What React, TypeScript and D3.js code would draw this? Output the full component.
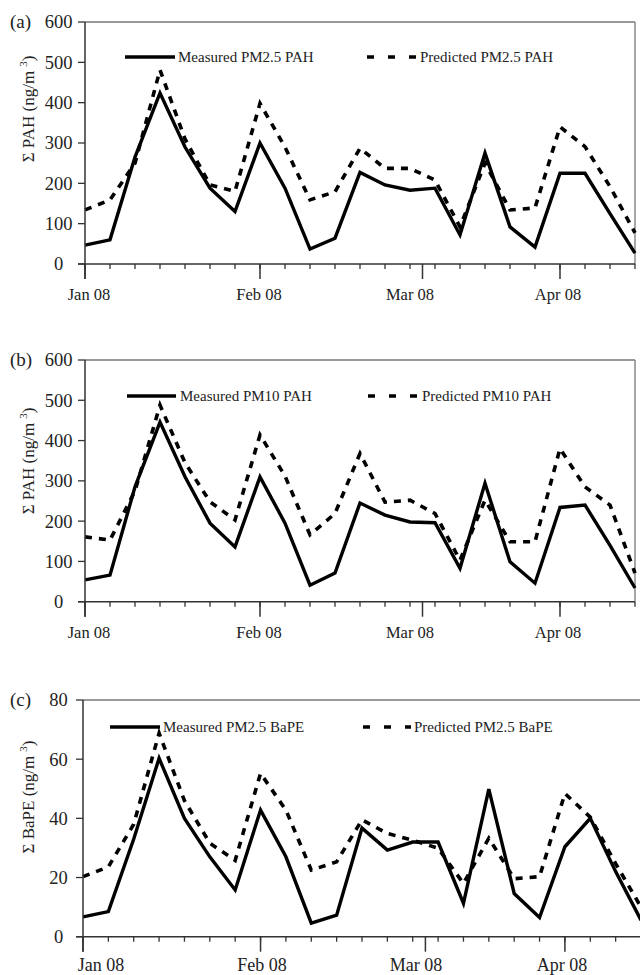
import React from "react";
import * as d3 from "d3";

const samples = [1, 2, 3, 4, 5, 6, 7, 8, 9, 10, 11, 12, 13, 14, 15, 16, 17, 18, 19, 20, 21, 22, 23];
const monthLabels = ["Jan 08", "Feb 08", "Mar 08", "Apr 08"];
const monthTickAt = [1, 8, 14.5, 20];

const measuredPM25PAH = [47, 60, 265, 424, 290, 188, 130, 300, 188, 37, 64, 227, 196, 183, 188, 72, 275, 92, 42, 225, 225, 125, 27];
const predictedPM25PAH = [134, 159, 250, 481, 310, 196, 180, 398, 290, 159, 179, 287, 237, 237, 208, 92, 250, 134, 139, 340, 291, 192, 77];

const measuredPM10PAH = [54, 66, 285, 446, 310, 195, 136, 310, 195, 41, 71, 245, 215, 198, 196, 83, 294, 99, 46, 234, 240, 140, 34];
const predictedPM10PAH = [161, 153, 275, 488, 345, 248, 203, 414, 312, 166, 219, 368, 247, 252, 219, 103, 252, 149, 149, 380, 285, 240, 71];

const measuredBaPE = [6.7, 8.5, 33, 60.3, 40, 27, 15.8, 42.8, 27, 4.6, 7.3, 36.7, 29.3, 32, 32, 11.3, 49.9, 14.6, 6.5, 30.4, 40, 22, 5.6];
const predictedBaPE = [20.3, 23.6, 38, 68.8, 46, 31.6, 25.8, 55.2, 42.8, 22.5, 25.3, 39.5, 34.9, 32.6, 29.9, 18, 33.3, 19.6, 20.3, 48.4, 40.4, 24.7, 10];

const yTicksPAH = [0, 100, 200, 300, 400, 500, 600];
const yTicksBaPE = [0, 20, 40, 60, 80];

const FONT = '"Liberation Serif", Tinos, "Times New Roman", Times, "DejaVu Serif", serif';
const TXT = { fontFamily: FONT };

type PanelProps = {
  tag: string;
  left: number;
  right: number;
  top: number;
  bottom: number;
  yMax: number;
  yTicks: number[];
  measured: number[];
  predicted: number[];
  measuredLabel: string;
  predictedLabel: string;
  titleMain: string;
  titleCy: number;
  legendY: number;
  legSolidX: [number, number];
  legDashX: [number, number];
  legTextGap: number;
  monthLabelX: number[];
  xLabelSize: number;
  xLabelBaseline: number;
};

function Panel(p: PanelProps) {
  const x = d3.scaleLinear().domain([1, 23]).range([p.left, p.right]);
  const y = d3.scaleLinear().domain([0, p.yMax]).range([p.bottom, p.top]);
  const line = d3
    .line<number>()
    .x((_, i) => x(samples[i]))
    .y((d) => y(d));
  const axisColor = "#333";
  return (
    <g>
      <line x1={p.left} x2={p.right} y1={p.top} y2={p.top} stroke="#777" strokeWidth={1.3} />
      <line x1={p.right} x2={p.right} y1={p.top} y2={p.bottom} stroke="#777" strokeWidth={1.3} />
      <path d={line(p.predicted) || ""} fill="none" stroke="#000" strokeWidth={3.6} strokeDasharray="7,7" />
      <path d={line(p.measured) || ""} fill="none" stroke="#000" strokeWidth={3.4} />
      <line x1={p.left} x2={p.left} y1={p.top} y2={p.bottom + 15} stroke={axisColor} strokeWidth={1.5} />
      <line x1={p.left - 7} x2={p.right} y1={p.bottom} y2={p.bottom} stroke={axisColor} strokeWidth={1.5} />
      {p.yTicks.map((t) => (
        <g key={t}>
          <line x1={p.left - 7} x2={p.left} y1={y(t)} y2={y(t)} stroke={axisColor} strokeWidth={1.3} />
          <text x={58.5} y={y(t)} dy="0.35em" textAnchor="middle" fontSize={18.5} fill="#222" style={TXT}>
            {t}
          </text>
        </g>
      ))}
      {samples.map((s) => (
        <line key={s} x1={x(s)} x2={x(s)} y1={p.bottom} y2={p.bottom + 5} stroke={axisColor} strokeWidth={1.3} />
      ))}
      {monthTickAt.map((m, i) => (
        <g key={i}>
          <line x1={x(m)} x2={x(m)} y1={p.bottom} y2={p.bottom + 15} stroke={axisColor} strokeWidth={1.5} />
          <text
            x={p.monthLabelX[i]}
            y={p.xLabelBaseline}
            textAnchor="middle"
            fontSize={p.xLabelSize}
            fill="#222"
            style={TXT}
          >
            {monthLabels[i]}
          </text>
        </g>
      ))}
      <text x={10} y={p.top + 6} fontSize={19} fill="#222" style={TXT}>
        {p.tag}
      </text>
      <text
        transform={`translate(34,${p.titleCy}) rotate(-90)`}
        textAnchor="middle"
        fontSize={17}
        fill="#222"
        style={TXT}
      >
        {p.titleMain} (ng/m
        <tspan dx={4} dy={-7} fontSize={11}>
          3
        </tspan>
        <tspan dy={7}>)</tspan>
      </text>
      <line x1={p.legSolidX[0]} x2={p.legSolidX[1]} y1={p.legendY} y2={p.legendY} stroke="#000" strokeWidth={3.4} />
      <text x={p.legSolidX[1] + p.legTextGap} y={p.legendY + 5} fontSize={15} fill="#222" style={TXT}>
        {p.measuredLabel}
      </text>
      <line
        x1={p.legDashX[0]}
        x2={p.legDashX[1]}
        y1={p.legendY}
        y2={p.legendY}
        stroke="#000"
        strokeWidth={3.6}
        strokeDasharray="7,14"
      />
      <text x={p.legDashX[1] + p.legTextGap} y={p.legendY + 5} fontSize={15} fill="#222" style={TXT}>
        {p.predictedLabel}
      </text>
    </g>
  );
}

export default function App() {
  return (
    <svg width={640} height={975} style={{ position: "absolute", left: 0, top: 0, background: "#fff" }}>
      <rect width={640} height={975} fill="#fff" />
      <Panel
        tag="(a)"
        left={85}
        right={635}
        top={22}
        bottom={264}
        yMax={600}
        yTicks={yTicksPAH}
        measured={measuredPM25PAH}
        predicted={predictedPM25PAH}
        measuredLabel="Measured PM2.5 PAH"
        predictedLabel="Predicted PM2.5 PAH"
        titleMain="Σ PAH"
        titleCy={109}
        legendY={57}
        legSolidX={[125, 175]}
        legDashX={[367, 417]}
        legTextGap={3}
        monthLabelX={[89, 259, 410, 558]}
        xLabelSize={16.5}
        xLabelBaseline={300}
      />
      <Panel
        tag="(b)"
        left={85}
        right={635}
        top={360}
        bottom={601.7}
        yMax={600}
        yTicks={yTicksPAH}
        measured={measuredPM10PAH}
        predicted={predictedPM10PAH}
        measuredLabel="Measured PM10 PAH"
        predictedLabel="Predicted PM10 PAH"
        titleMain="Σ PAH"
        titleCy={461}
        legendY={396}
        legSolidX={[127, 176]}
        legDashX={[368, 418]}
        legTextGap={4}
        monthLabelX={[89, 259, 410, 558]}
        xLabelSize={16.5}
        xLabelBaseline={638}
      />
      <Panel
        tag="(c)"
        left={83}
        right={641}
        top={700}
        bottom={936.7}
        yMax={80}
        yTicks={yTicksBaPE}
        measured={measuredBaPE}
        predicted={predictedBaPE}
        measuredLabel="Measured PM2.5 BaPE"
        predictedLabel="Predicted PM2.5 BaPE"
        titleMain="Σ BaPE"
        titleCy={797}
        legendY={727}
        legSolidX={[110, 160]}
        legDashX={[363, 411]}
        legTextGap={3}
        monthLabelX={[101, 262, 416, 562]}
        xLabelSize={18}
        xLabelBaseline={971}
      />
    </svg>
  );
}
